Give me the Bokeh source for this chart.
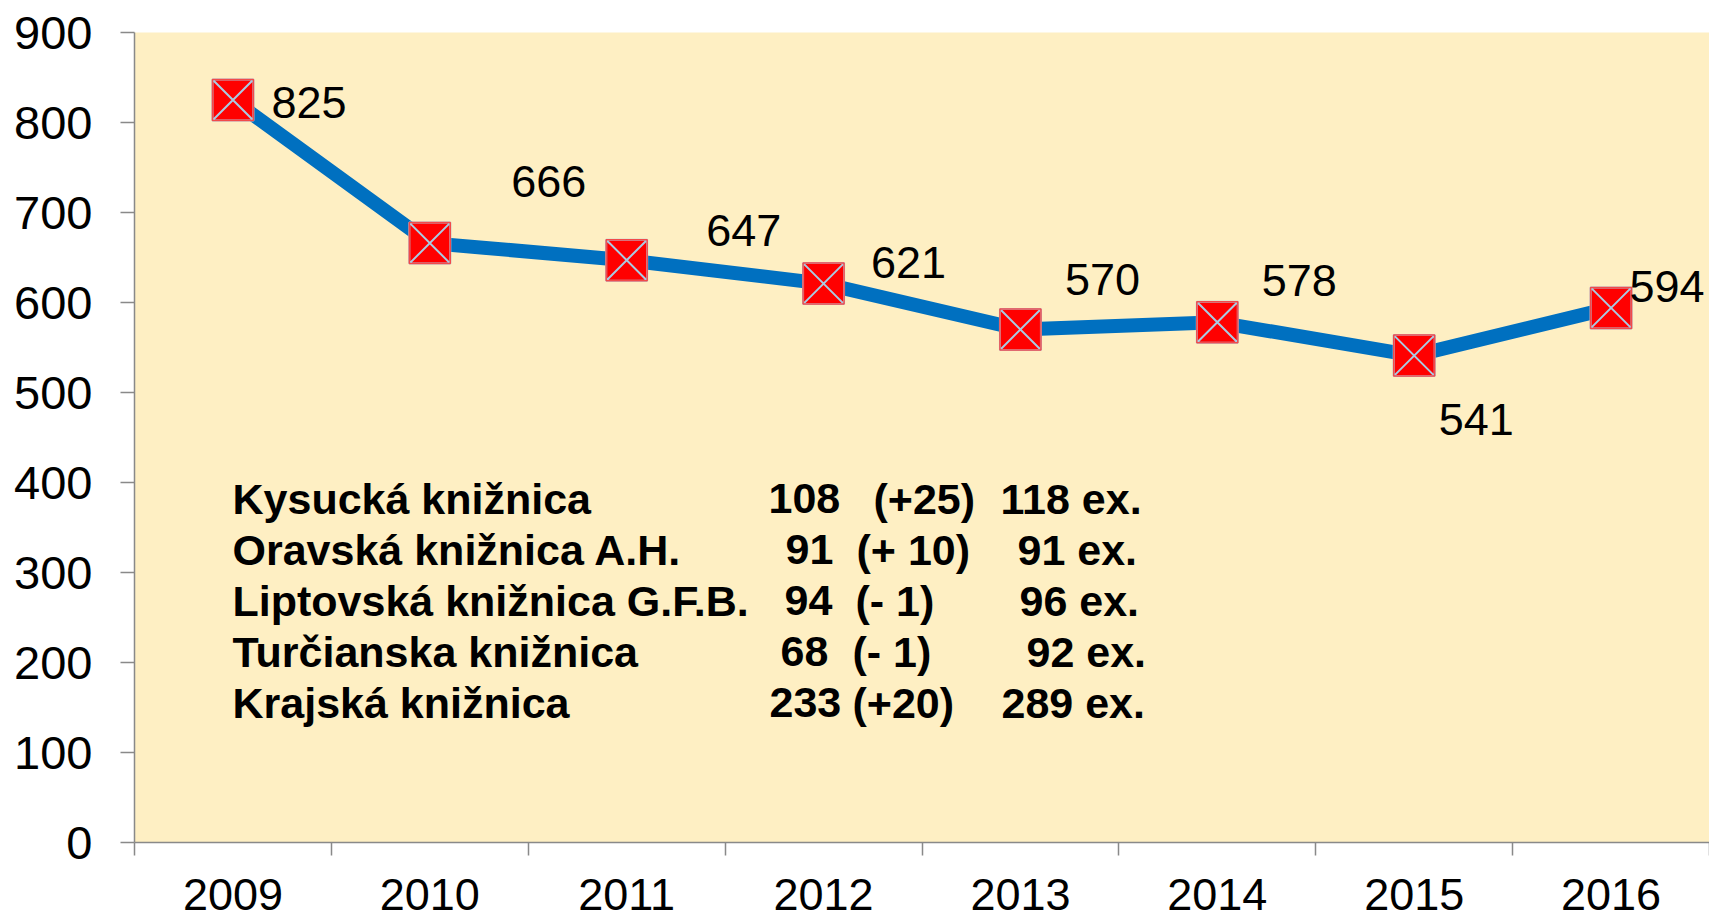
from bokeh.plotting import figure
from bokeh.models import ColumnDataSource, FixedTicker, Range1d
from bokeh.embed import file_html
from bokeh.resources import INLINE
from bokeh.core.properties import value

# ---- data ----
years = [2009, 2010, 2011, 2012, 2013, 2014, 2015, 2016]
values = [825, 666, 647, 621, 570, 578, 541, 594]
value_labels = [str(v) for v in values]

libraries = ["Kysucká knižnica", "Oravská knižnica A.H.", "Liptovská knižnica G.F.B.",
             "Turčianska knižnica", "Krajská knižnica"]
lib_counts = ["108", "91", "94", "68", "233"]
lib_changes = ["(+25)", "(+ 10)", "(- 1)", "(- 1)", "(+20)"]
lib_totals = ["118 ex.", "91 ex.", "96 ex.", "92 ex.", "289 ex."]

# ---- layout (pixel offsets) ----
label_dx = [76, 119, 117, 85, 82, 82, 62, 56]
label_dy = [2, -62, -30, -21, -50, -42, 64, -21]
row_base = [498, 549, 600, 651, 702]
name_px = [232, 232, 232, 232, 232]
count_px = [768, 785, 784, 780, 769]
change_px = [873, 856, 855, 852, 852]
total_px = [1000, 1017, 1019, 1026, 1001]
FRAME_LEFT, FRAME_BOTTOM = 134, 842

FONT = "Liberation Sans"
AXIS_COL = "#898989"

p = figure(width=1709, height=921, x_range=Range1d(2008.5, 2016.5), y_range=Range1d(0, 900),
           output_backend="svg", toolbar_location=None,
           min_border_left=134, min_border_right=0, min_border_top=32, min_border_bottom=79,
           background_fill_color="#FEEFC3", border_fill_color="white", outline_line_color=None)
p.xgrid.visible = False
p.ygrid.visible = False

xa = p.xaxis[0]
xa.ticker = FixedTicker(ticks=years, minor_ticks=[y - 0.5 for y in years] + [years[-1] + 0.5])
xa.major_tick_out = 0
xa.major_tick_in = 0
xa.minor_tick_out = 13
xa.minor_tick_in = 0
xa.minor_tick_line_color = AXIS_COL
xa.minor_tick_line_width = 1.5
xa.axis_line_color = AXIS_COL
xa.axis_line_width = 1.5
xa.major_label_text_font = FONT
xa.major_label_text_font_size = "45px"
xa.major_label_text_color = "black"
xa.major_label_text_line_height = 1.0
xa.major_label_standoff = 23

ya = p.yaxis[0]
ya.ticker = FixedTicker(ticks=list(range(0, 901, 100)), minor_ticks=[])
ya.major_tick_out = 14
ya.major_tick_in = 0
ya.major_tick_line_color = AXIS_COL
ya.major_tick_line_width = 1.5
ya.axis_line_color = AXIS_COL
ya.axis_line_width = 1.5
ya.major_label_text_font = FONT
ya.major_label_text_font_size = "47px"
ya.major_label_text_color = "black"
ya.major_label_standoff = 28

src = ColumnDataSource(dict(x=years, y=values, lab=value_labels,
                            dx=label_dx, dy=label_dy))

p.line("x", "y", source=src, line_color="#0070C0", line_width=14)
p.scatter("x", "y", source=src, marker="square_x", size=41, fill_color="#FF0000",
          line_color="#A9CBE3", line_width=2)
p.scatter("x", "y", source=src, marker="square", size=41, fill_alpha=0,
          line_color="#F24A4A", line_width=1.5)
p.text("x", "y", text="lab", source=src, x_offset="dx", y_offset="dy",
       text_font=value(FONT), text_font_size="45px", text_color="black",
       text_align="center", text_baseline="alphabetic")

n = len(libraries)
def block(texts, pxs):
    s = ColumnDataSource(dict(x=[years[0] - 0.5] * n, y=[0] * n, t=texts,
                              dx=[px - FRAME_LEFT for px in pxs],
                              dy=[b - FRAME_BOTTOM for b in row_base]))
    p.text("x", "y", text="t", source=s, x_offset="dx", y_offset="dy",
           text_font=value(FONT), text_font_size="43px", text_font_style="bold",
           text_color="black", text_align="left", text_baseline="alphabetic")

block(libraries, name_px)
block(lib_counts, count_px)
block(lib_changes, change_px)
block(lib_totals, total_px)

open("out.html", "w").write(file_html(p, INLINE))
